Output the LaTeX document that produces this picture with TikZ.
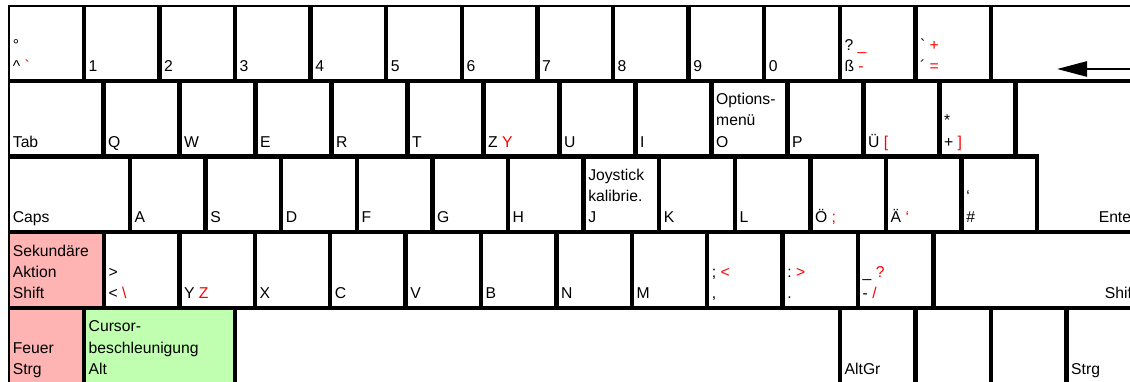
\documentclass[tikz,border=0pt]{standalone}
\usepackage{fontspec}
\setmainfont{Liberation Sans}
\usetikzlibrary{arrows.meta}
\definecolor{keypink}{RGB}{255,180,180}
\definecolor{keygreen}{RGB}{192,255,176}
\newcommand{\zw}[1]{\textcolor{red}{#1}}

\begin{document}
\begin{tikzpicture}[x=1pt,y=-1pt,
  key/.style={draw,line width=2.2pt,anchor=north west,inner sep=0pt,
    minimum width=73.4pt,minimum height=73.55pt},
  wd/.style={minimum width=#1},
  qkey/.style={key,wd=73.8pt},
  ykey/.style={key,wd=73.2pt},
  lbl/.style={font=\fontsize{15.7}{21.3}\selectfont,inner sep=0pt,anchor=base west},
  ln1/.style={label={[lbl,xshift=4.5pt,yshift=9.3pt]south west:{#1}}},
  ln2/.style={label={[lbl,xshift=4.5pt,yshift=30.6pt]south west:{#1}}},
  ln3/.style={label={[lbl,xshift=4.5pt,yshift=51.9pt]south west:{#1}}},
  lnr/.style={label={[lbl,anchor=base east,xshift=-4.5pt,yshift=9.3pt]south east:{#1}}}]
  \useasboundingbox (0,0) rectangle (1130,382);
  \clip (0,0) rectangle (1130,382);

  % Zahlenreihe
  \node[key,ln2=°,ln1={\textasciicircum~\zw{\textasciigrave}}] (zirk) at (8.2,5) {};
  \node[key,ln1=1] (k1) at (83.8,5) {};
  \node[key,ln1=2] (k2) at (159.4,5) {};
  \node[key,ln1=3] (k3) at (235,5) {};
  \node[key,ln1=4] (k4) at (310.6,5) {};
  \node[key,ln1=5] (k5) at (386.2,5) {};
  \node[key,ln1=6] (k6) at (461.8,5) {};
  \node[key,ln1=7] (k7) at (537.4,5) {};
  \node[key,ln1=8] (k8) at (613,5) {};
  \node[key,ln1=9] (k9) at (688.6,5) {};
  \node[key,ln1=0] (k0) at (764.2,5) {};
  \node[key,ln2={?~\zw{\_}},ln1={ß~\zw{-}}] (sz) at (839.8,5) {};
  \node[key,ln2={\textasciigrave~\zw{+}},ln1={´~\zw{=}}] (akut) at (915.4,5) {};
  \node[key,wd=147.8pt] (back) at (991,5) {};
  \coordinate (pfeil-a) at (1136,69);
  \coordinate (pfeil-b) at (1057,69);
  \draw[line width=2.6pt,-{Triangle[length=30pt,width=15pt]}] (pfeil-a) -- (pfeil-b);

  % QWERTZ-Reihe
  \node[key,wd=93.1pt,ln1=Tab] (tab) at (8.2,80.75) {};
  \node[qkey,ln1=Q] (q) at (103.5,80.75) {};
  \node[qkey,ln1=W] (w) at (179.5,80.75) {};
  \node[qkey,ln1=E] (e) at (255.5,80.75) {};
  \node[qkey,ln1=R] (r) at (331.5,80.75) {};
  \node[qkey,ln1=T] (t) at (407.5,80.75) {};
  \node[qkey,ln1={Z~\zw{Y}}] (z) at (483.5,80.75) {};
  \node[qkey,ln1=U] (u) at (559.5,80.75) {};
  \node[qkey,ln1=I] (i) at (635.5,80.75) {};
  \node[qkey,ln3=Options-,ln2=menü,ln1=O] (o) at (711.5,80.75) {};
  \node[qkey,ln1=P] (p) at (787.5,80.75) {};
  \node[qkey,ln1={Ü~\zw{[}}] (ue) at (863.5,80.75) {};
  \node[qkey,ln2=*,ln1={+~\zw{]}}] (plus) at (939.5,80.75) {};
  \draw[line width=2.2pt] (1016.6,81.85) -- (1139.9,81.85) -- (1139.9,231.15)
    -- (1038.3,231.15) -- (1038.3,155.4) -- (1016.6,155.4) -- cycle;
  \node[lbl,anchor=base east] (enter) at (1136.5,222.95) {Enter};

  % Mittelreihe
  \node[key,wd=119.6pt,ln1=Caps] (caps) at (8.2,156.5) {};
  \node[key,ln1=A] (a) at (130,156.5) {};
  \node[key,ln1=S] (s) at (205.6,156.5) {};
  \node[key,ln1=D] (d) at (281.2,156.5) {};
  \node[key,ln1=F] (f) at (356.8,156.5) {};
  \node[key,ln1=G] (g) at (432.4,156.5) {};
  \node[key,ln1=H] (h) at (508,156.5) {};
  \node[key,ln3=Joystick,ln2=kalibrie.,ln1=J] (j) at (583.6,156.5) {};
  \node[key,ln1=K] (k) at (659.2,156.5) {};
  \node[key,ln1=L] (l) at (734.8,156.5) {};
  \node[key,ln1={Ö~\zw{;}}] (oe) at (810.4,156.5) {};
  \node[key,ln1={Ä~\zw{`}}] (ae) at (886,156.5) {};
  \node[key,ln2={`},ln1={\#}] (raute) at (961.6,156.5) {};

  % untere Reihe
  \node[key,wd=93.6pt,fill=keypink,ln3=Sekundäre,ln2=Aktion,ln1=Shift] (shift-l) at (8.2,232.25) {};
  \node[ykey,ln2={>},ln1={<~\zw{\textbackslash}}] (kleiner) at (104,232.25) {};
  \node[ykey,ln1={Y~\zw{Z}}] (y) at (179.4,232.25) {};
  \node[ykey,ln1=X] (x) at (254.8,232.25) {};
  \node[ykey,ln1=C] (c) at (330.2,232.25) {};
  \node[ykey,ln1=V] (v) at (405.6,232.25) {};
  \node[ykey,ln1=B] (b) at (481,232.25) {};
  \node[ykey,ln1=N] (n) at (556.4,232.25) {};
  \node[ykey,ln1=M] (m) at (631.8,232.25) {};
  \node[ykey,ln2={;~\zw{<}},ln1={,}] (komma) at (707.2,232.25) {};
  \node[ykey,ln2={:~\zw{>}},ln1={.}] (punkt) at (782.6,232.25) {};
  \node[ykey,ln2={\_~\zw{?}},ln1={-~\zw{/}}] (minus) at (858,232.25) {};
  \node[key,wd=205.4pt,lnr=Shift] (shift-r) at (933.4,232.25) {};

  % Leertastenreihe
  \node[key,wd=73.6pt,fill=keypink,ln2=Feuer,ln1=Strg] (strg-l) at (8.2,308) {};
  \node[key,wd=148.8pt,fill=keygreen,ln3=Cursor-,ln2=beschleunigung,ln1=Alt] (alt) at (84,308) {};
  \node[key,wd=602.8pt] (space) at (235,308) {};
  \node[key,ln1=AltGr] (altgr) at (840,308) {};
  \node[key] (win) at (915.5,308) {};
  \node[key] (menu) at (991,308) {};
  \node[key,wd=72.3pt,ln1=Strg] (strg-r) at (1066.5,308) {};
\end{tikzpicture}
\end{document}
